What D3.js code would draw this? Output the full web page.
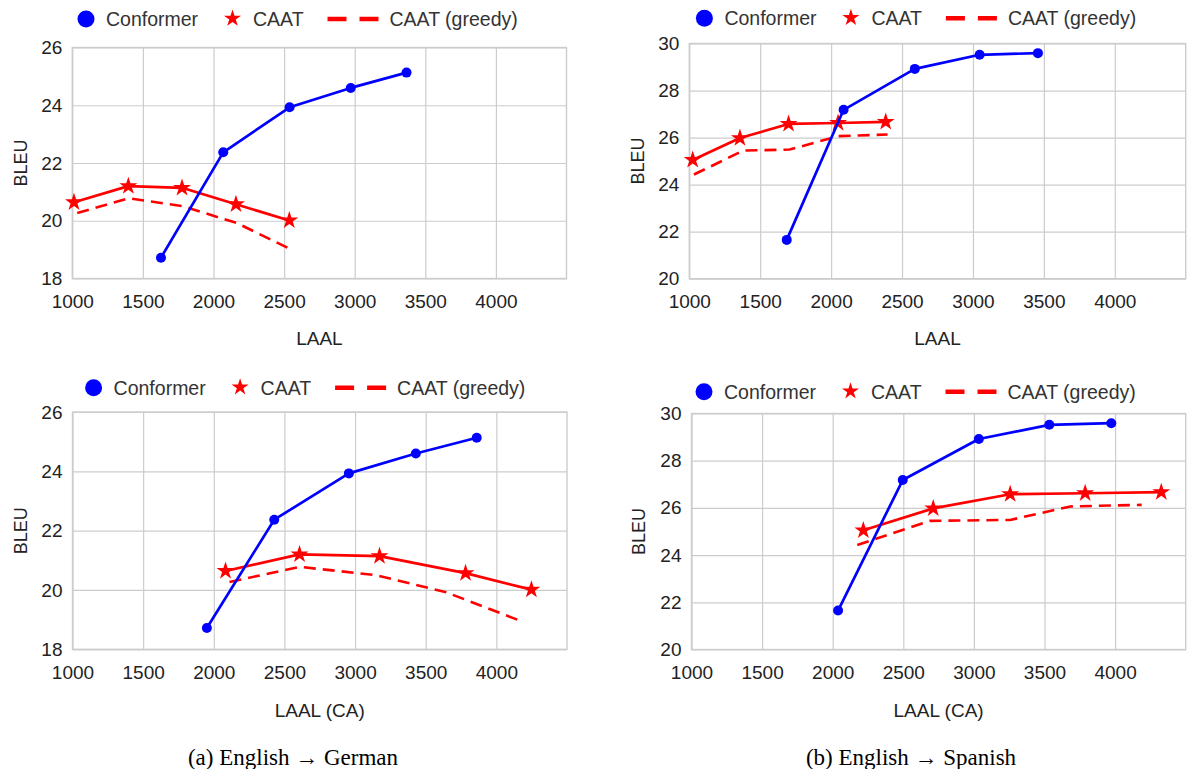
<!DOCTYPE html>
<html>
<head>
<meta charset="utf-8">
<script src="https://cdn.jsdelivr.net/npm/d3@7"></script>
<style>
  html, body { margin: 0; padding: 0; background: #fff; }
  svg { display: block; }
  .tick text { font-family: "Liberation Sans", Arial, sans-serif; font-size: 19px; fill: #222; }
</style>
</head>
<body>
<svg id="chart" width="1188" height="769"></svg>
<script>
// ---- data ----
const xTicks = [1000, 1500, 2000, 2500, 3000, 3500, 4000];
const enDeTicks = [18, 20, 22, 24, 26];
const enEsTicks = [20, 22, 24, 26, 28, 30];

// English -> German
const enDeConformerBleu = [18.72, 22.37, 23.93, 24.60, 25.13];
const enDeConformerLaal = [1628, 2069, 2539, 2972, 3367];
const enDeConformerLaalCa = [1951, 2428, 2956, 3430, 3861];
const enDeCaatBleu = [20.64, 21.20, 21.14, 20.57, 20.01];
const enDeCaatLaal = [1012, 1397, 1777, 2159, 2537];
const enDeCaatLaalCa = [2083, 2607, 3173, 3782, 4248];
const enDeGreedyBleu = [20.27, 20.78, 20.50, 19.92, 18.97];
const enDeGreedyLaal = [1035, 1400, 1785, 2165, 2565];
const enDeGreedyLaalCa = [2111, 2607, 3150, 3646, 4165];

// English -> Spanish
const enEsConformerBleu = [21.65, 27.18, 28.92, 29.52, 29.59];
const enEsConformerLaal = [1687, 2088, 2590, 3047, 3458];
const enEsConformerLaalCa = [2038, 2496, 3035, 3534, 3973];
const enEsCaatBleu = [25.05, 25.98, 26.58, 26.62, 26.67];
const enEsCaatLaal = [1024, 1357, 1700, 2049, 2385];
const enEsCaatLaalCa = [2217, 2712, 3257, 3788, 4327];
const enEsGreedyBleu = [24.43, 25.45, 25.49, 26.06, 26.13];
const enEsGreedyLaal = [1033, 1382, 1707, 2049, 2398];
const enEsGreedyLaalCa = [2174, 2689, 3257, 3682, 4188];

const legendLabels = ["Conformer", "CAAT", "CAAT (greedy)"];
const captions = ["(a) English \u2192 German", "(b) English \u2192 Spanish"];

const BLUE = "#0000ff";
const RED = "#ff0000";
const GRID = "#cccccc";
const SANS = '"Liberation Sans", Arial, sans-serif';

const zip = (xs, ys) => xs.map((x, i) => ({ x, y: ys[i] }));

const svg = d3.select("#chart");

function drawPanel(p) {
  const x = d3.scaleLinear().domain([1000, 4500]).range([p.left, p.right]);
  const y = d3.scaleLinear().domain(p.yDomain).range([p.bottom, p.top]);
  const w = p.right - p.left;
  const h = p.bottom - p.top;

  const g = svg.append("g");

  // grid + tick labels
  const gx = g.append("g")
    .attr("transform", `translate(0,${p.bottom})`)
    .call(d3.axisBottom(x).tickValues(xTicks).tickSize(-h).tickPadding(16).tickFormat(d3.format("d")));
  gx.select(".domain").remove();
  gx.selectAll("line").attr("stroke", GRID).attr("stroke-width", 1.2);

  const gy = g.append("g")
    .attr("transform", `translate(${p.left},0)`)
    .call(d3.axisLeft(y).tickValues(p.yTicks).tickSize(-w).tickPadding(10));
  gy.select(".domain").remove();
  gy.selectAll("line").attr("stroke", GRID).attr("stroke-width", 1.2);

  g.append("rect")
    .attr("x", p.left).attr("y", p.top)
    .attr("width", w).attr("height", h)
    .attr("fill", "none").attr("stroke", GRID).attr("stroke-width", 1.4);

  // axis titles
  g.append("text")
    .attr("x", (p.left + p.right) / 2).attr("y", p.xTitleY)
    .attr("dy", "0.36em")
    .attr("text-anchor", "middle")
    .style("font-family", SANS).style("font-size", "19px").style("fill", "#222")
    .text(p.xTitle);

  g.append("text")
    .attr("transform", `translate(${p.yTitleX},${(p.top + p.bottom) / 2}) rotate(-90)`)
    .attr("dy", "0.36em")
    .attr("text-anchor", "middle")
    .style("font-family", SANS).style("font-size", "18px").style("fill", "#222")
    .text("BLEU");

  const line = d3.line().x(d => x(d.x)).y(d => y(d.y));

  // CAAT (greedy)
  g.append("path")
    .datum(p.greedy)
    .attr("fill", "none")
    .attr("stroke", RED)
    .attr("stroke-width", 2.6)
    .attr("stroke-dasharray", "12,7")
    .attr("d", line);

  // CAAT
  g.append("path")
    .datum(p.caat)
    .attr("fill", "none")
    .attr("stroke", RED)
    .attr("stroke-width", 2.7)
    .attr("stroke-linejoin", "round")
    .attr("d", line);

  const star = d3.symbol().type(d3.symbolStar).size(100);
  g.selectAll(".star")
    .data(p.caat)
    .enter().append("path")
    .attr("class", "star")
    .attr("transform", d => `translate(${x(d.x)},${y(d.y)})`)
    .attr("d", star)
    .attr("fill", RED);

  // Conformer
  g.append("path")
    .datum(p.conformer)
    .attr("fill", "none")
    .attr("stroke", BLUE)
    .attr("stroke-width", 2.7)
    .attr("stroke-linejoin", "round")
    .attr("d", line);

  g.selectAll(".dot")
    .data(p.conformer)
    .enter().append("circle")
    .attr("class", "dot")
    .attr("cx", d => x(d.x))
    .attr("cy", d => y(d.y))
    .attr("r", 5)
    .attr("fill", BLUE);

  // legend
  const lg = g.append("g").attr("transform", `translate(${p.legendX},${p.legendY})`);
  const legendText = (dx, t) => lg.append("text")
    .attr("x", dx).attr("y", 0).attr("dy", "0.36em")
    .style("font-family", SANS).style("font-size", "19.5px").style("fill", "#333")
    .text(t);

  lg.append("circle").attr("cx", 0).attr("cy", 0).attr("r", 8.5).attr("fill", BLUE);
  legendText(20, legendLabels[0]);
  lg.append("path")
    .attr("transform", "translate(146.5,-0.5)")
    .attr("d", d3.symbol().type(d3.symbolStar).size(90))
    .attr("fill", RED);
  legendText(167, legendLabels[1]);
  lg.append("line")
    .attr("x1", 241.5).attr("x2", 292.5).attr("y1", 0).attr("y2", 0)
    .attr("stroke", RED).attr("stroke-width", 4.5)
    .attr("stroke-dasharray", "19,13");
  legendText(303.5, legendLabels[2]);
}

drawPanel({
  left: 72.3, right: 566.5, top: 47.5, bottom: 278.5,
  yDomain: [18, 26], yTicks: enDeTicks,
  xTitle: "LAAL", xTitleY: 338, yTitleX: 21,
  legendX: 86, legendY: 19,
  conformer: zip(enDeConformerLaal, enDeConformerBleu),
  caat: zip(enDeCaatLaal, enDeCaatBleu),
  greedy: zip(enDeGreedyLaal, enDeGreedyBleu)
});

drawPanel({
  left: 689.3, right: 1185.7, top: 43.5, bottom: 278.7,
  yDomain: [20, 30], yTicks: enEsTicks,
  xTitle: "LAAL", xTitleY: 338, yTitleX: 638,
  legendX: 704.4, legendY: 18.3,
  conformer: zip(enEsConformerLaal, enEsConformerBleu),
  caat: zip(enEsCaatLaal, enEsCaatBleu),
  greedy: zip(enEsGreedyLaal, enEsGreedyBleu)
});

drawPanel({
  left: 72.5, right: 567, top: 412, bottom: 649.3,
  yDomain: [18, 26], yTicks: enDeTicks,
  xTitle: "LAAL (CA)", xTitleY: 710, yTitleX: 21,
  legendX: 93.6, legendY: 387.7,
  conformer: zip(enDeConformerLaalCa, enDeConformerBleu),
  caat: zip(enDeCaatLaalCa, enDeCaatBleu),
  greedy: zip(enDeGreedyLaalCa, enDeGreedyBleu)
});

drawPanel({
  left: 691.5, right: 1185.7, top: 413.5, bottom: 649.5,
  yDomain: [20, 30], yTicks: enEsTicks,
  xTitle: "LAAL (CA)", xTitleY: 710, yTitleX: 639,
  legendX: 704, legendY: 391.7,
  conformer: zip(enEsConformerLaalCa, enEsConformerBleu),
  caat: zip(enEsCaatLaalCa, enEsCaatBleu),
  greedy: zip(enEsGreedyLaalCa, enEsGreedyBleu)
});

// sub-figure captions
svg.selectAll(".caption")
  .data(captions)
  .enter().append("text")
  .attr("class", "caption")
  .attr("x", (d, i) => i === 0 ? 293 : 911)
  .attr("y", 757)
  .attr("dy", "0.33em")
  .attr("text-anchor", "middle")
  .style("font-family", '"Liberation Serif", "Times New Roman", serif')
  .style("font-size", "23px")
  .style("fill", "#000")
  .text(d => d);
</script>
</body>
</html>
